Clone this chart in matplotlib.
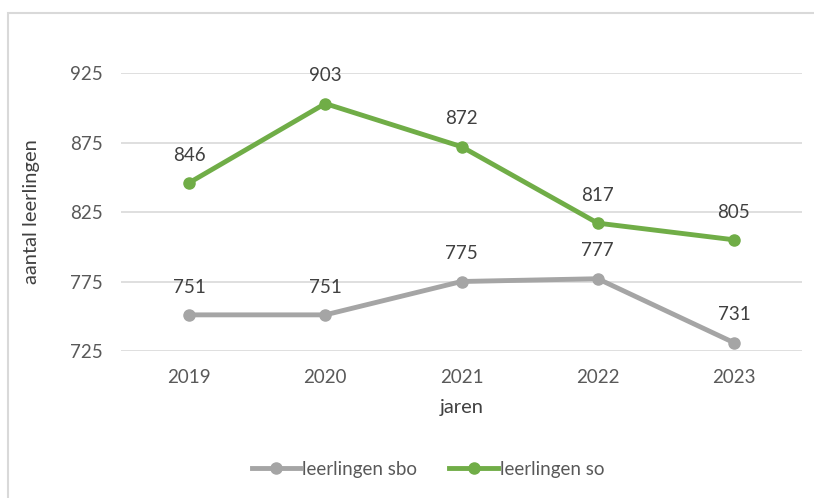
import matplotlib.pyplot as plt
from matplotlib.patches import Rectangle

jaren = ["2019", "2020", "2021", "2022", "2023"]
sbo = [751, 751, 775, 777, 731]
so = [846, 903, 872, 817, 805]
y_ticks = [725, 775, 825, 875, 925]

plt.rcParams["font.family"] = ["Lato", "DejaVu Sans"]
txt = "#595959"

fig = plt.figure(figsize=(8.14, 4.98), dpi=100)
fig.patches.append(Rectangle((8 / 814, -0.1), 1.2, 1 - 13 / 498 + 0.1, transform=fig.transFigure,
                             fill=False, edgecolor="#d9d9d9", linewidth=1.5))
ax = fig.add_axes([121 / 814, 1 - 351 / 498, (802 - 121) / 814, (351 - 73) / 498])

x = range(len(jaren))
ax.plot(x, sbo, "-o", color="#a5a5a5", lw=3.5, ms=8, label="leerlingen sbo", zorder=3)
ax.plot(x, so, "-o", color="#70ad47", lw=3.5, ms=8, label="leerlingen so", zorder=3)

for serie in (sbo, so):
    for i, v in enumerate(serie):
        ax.annotate(str(v), (i, v), xytext=(0, 20), textcoords="offset points",
                    ha="center", va="center", fontsize=13.5, color="#404040", annotation_clip=False)

ax.set_xlim(-0.5, len(jaren) - 0.5)
ax.set_ylim(725, 925)
ax.set_xticks(list(x))
ax.set_xticklabels(jaren)
ax.set_yticks(y_ticks)
ax.tick_params(length=0, labelsize=13.5, labelcolor=txt)
ax.tick_params(axis="x", pad=13)
ax.tick_params(axis="y", pad=13)
ax.grid(axis="y", color="#d9d9d9", lw=1.2)
ax.set_axisbelow(True)
for s in ax.spines.values():
    s.set_visible(False)

ax.set_xlabel("jaren", fontsize=14.5, color="#404040", labelpad=9)
ax.set_ylabel("aantal leerlingen", fontsize=14.5, color="#404040", labelpad=22)

ax.legend(loc="center", bbox_to_anchor=(428 / 814, 1 - 469 / 498), bbox_transform=fig.transFigure,
          ncol=2, frameon=False, fontsize=13.5, labelcolor=txt, handlelength=2.6,
          handletextpad=0.1, columnspacing=1.7)

fig.savefig("out.png", dpi=100)
